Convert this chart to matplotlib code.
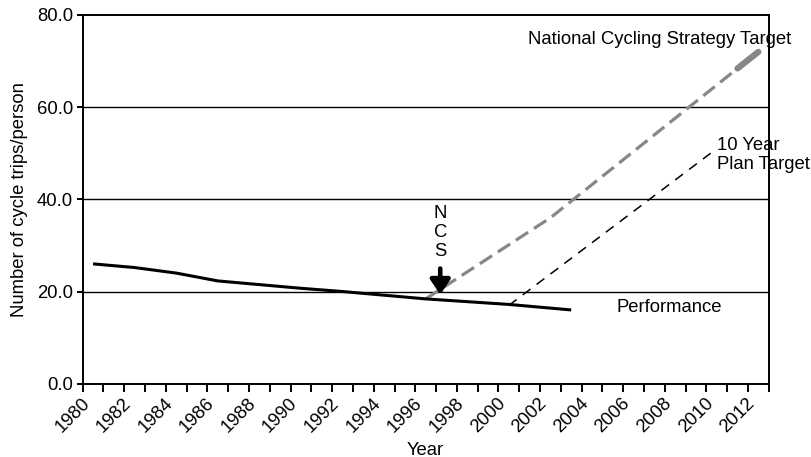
import matplotlib
matplotlib.use("Agg")
import matplotlib.pyplot as plt
from matplotlib.ticker import FixedLocator, FuncFormatter

plt.rcParams['font.family'] = ['Liberation Sans', 'DejaVu Sans']
plt.rcParams['lines.scale_dashes'] = False

# ---- data ----
years = list(range(1980, 2013))
label_years = list(range(1980, 2013, 2))
y_ticks = [0, 20, 40, 60, 80]

perf_years = [1980, 1982, 1984, 1986, 1988, 1990, 1992, 1994, 1996, 1998, 2000, 2003]
perf_values = [26.0, 25.2, 24.0, 22.3, 21.5, 20.7, 20.0, 19.2, 18.4, 17.8, 17.2, 16.0]

ncs_years = [1996, 2002, 2011, 2012]
ncs_values = [18.4, 36.0, 68.4, 72.0]

tenyr_years = [2000, 2010]
tenyr_values = [17.0, 51.0]

ncs_marker_year = 1996.7

FS = 13.3

fig = plt.figure(figsize=(8.12, 4.57), dpi=100)
ax = fig.add_axes([0.1018, 0.1604, 0.9467 - 0.1018, 0.9672 - 0.1604])

ax.set_xlim(years[0] - 0.5, years[-1] + 0.5)
ax.set_ylim(y_ticks[0], y_ticks[-1])

# gridlines
for v in y_ticks[1:-1]:
    ax.axhline(v, color='black', lw=1.0, zorder=1)

# lines
ax.plot(perf_years, perf_values, color='black', lw=2.2, solid_capstyle='butt', zorder=3)
ax.plot(ncs_years, ncs_values, color='#878787', lw=2.3, dashes=[10.5, 5], zorder=2)
ax.plot(ncs_years[-2:], ncs_values[-2:], color='#878787', lw=4.5,
        solid_capstyle='round', zorder=2)
ax.plot(tenyr_years, tenyr_values, color='black', lw=1.1, dashes=[7, 5.5], zorder=2)

# annotations
ax.text(ncs_marker_year, 32.9, "N\nC\nS", ha='center', va='center', fontsize=FS,
        linespacing=1.15)
ax.annotate('', xy=(ncs_marker_year, 19.3), xytext=(ncs_marker_year, 25.0),
            arrowprops=dict(arrowstyle='-|>,head_length=0.6,head_width=0.4',
                            color='black', lw=3.3, shrinkA=0, shrinkB=0,
                            mutation_scale=15), zorder=5)
ax.text(2013.6, 74.6, "National Cycling Strategy Target", ha='right', va='center',
        fontsize=FS, clip_on=False)
ax.text(2010.0, 49.6, "10 Year\nPlan Target", ha='left', va='center', fontsize=FS,
        linespacing=1.1, clip_on=False)
ax.text(2005.2, 16.6, "Performance", ha='left', va='center', fontsize=FS)

# spines
for s in ax.spines.values():
    s.set_color('black')
    s.set_linewidth(1.4)

# ticks
ax.xaxis.set_major_locator(FixedLocator(label_years))
ax.xaxis.set_minor_locator(FixedLocator([y - 0.5 for y in years] + [years[-1] + 0.5]))
ax.set_xticklabels([str(y) for y in label_years], rotation=45, ha='right', fontsize=FS)
ax.tick_params(axis='x', which='major', length=0, pad=8)
ax.tick_params(axis='x', which='minor', length=6, width=1.4, direction='out')
ax.set_yticks(y_ticks)
ax.yaxis.set_major_formatter(FuncFormatter(lambda v, p: f"{v:.1f}"))
ax.tick_params(axis='y', which='major', length=4, width=1.4, direction='out',
               labelsize=FS, pad=3)

ax.set_xlabel("Year", fontsize=FS, labelpad=4)
ax.set_ylabel("Number of cycle trips/person", fontsize=FS, labelpad=6)

fig.savefig("out.png", dpi=100)
